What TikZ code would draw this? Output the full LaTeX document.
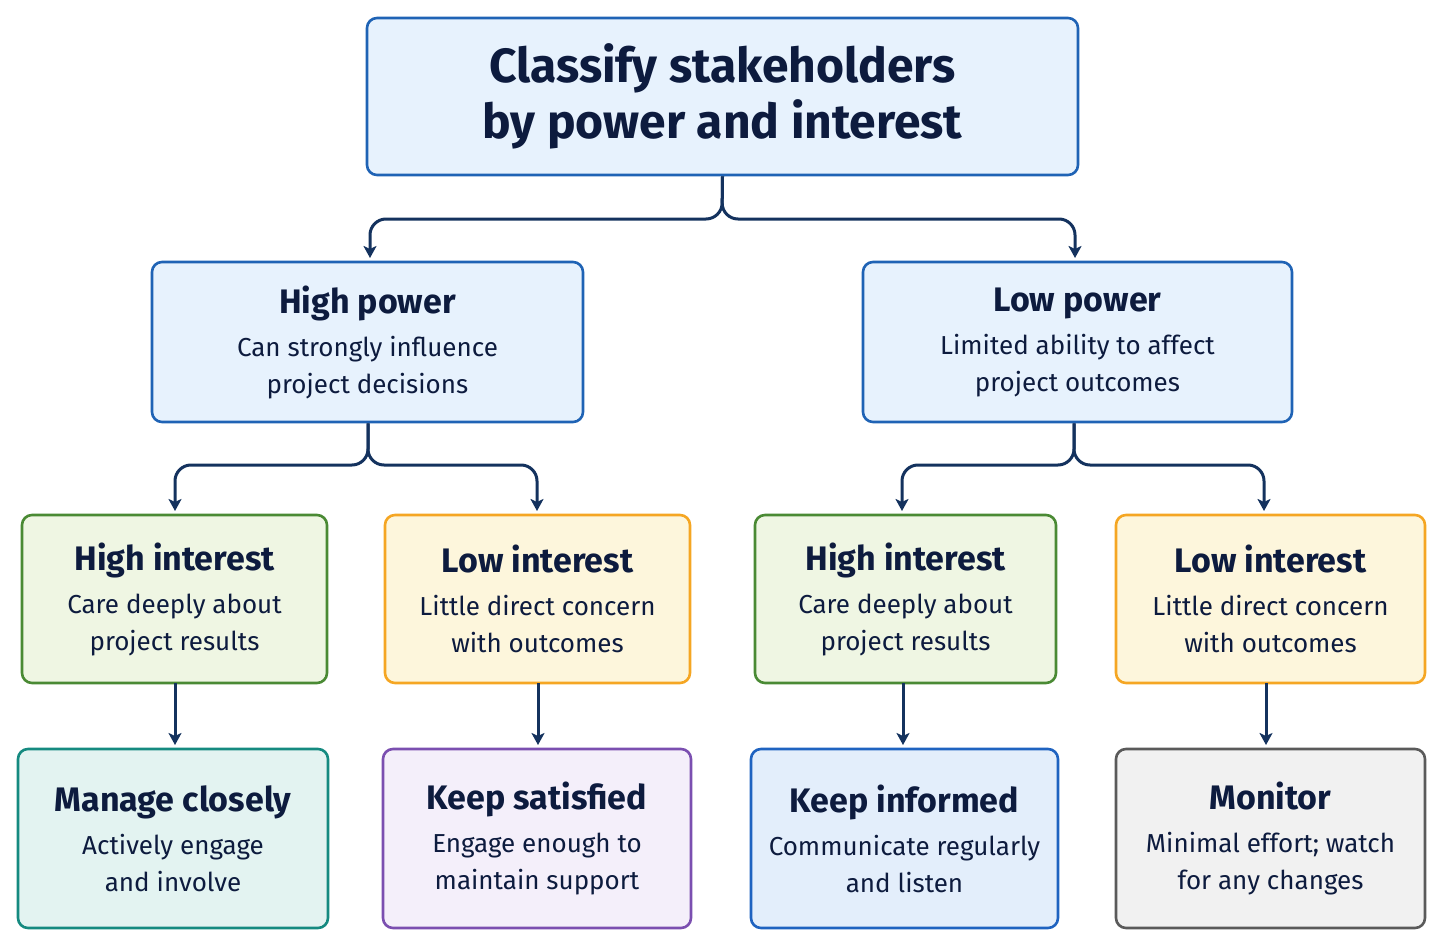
\documentclass[tikz,border=0pt]{standalone}
\usepackage{fontspec}
\setmainfont{Fira Sans}
\usetikzlibrary{arrows.meta}
\definecolor{txt}{HTML}{0D1B3E}
\definecolor{arr}{HTML}{14325E}
\definecolor{bB}{HTML}{1F63B5}\definecolor{fB}{HTML}{E7F2FD}
\definecolor{bG}{HTML}{4A8A34}\definecolor{fG}{HTML}{EFF6E3}
\definecolor{bO}{HTML}{F5A623}\definecolor{fO}{HTML}{FDF6DC}
\definecolor{bT}{HTML}{158A80}\definecolor{fT}{HTML}{E3F3F1}
\definecolor{bP}{HTML}{7B4FB0}\definecolor{fP}{HTML}{F4EFFA}
\definecolor{bK}{HTML}{1F63C0}\definecolor{fK}{HTML}{E3EEFB}
\definecolor{bY}{HTML}{5A5A5A}\definecolor{fY}{HTML}{F1F1F1}
\newcommand{\hdf}{\fontsize{34}{40}\selectfont\bfseries}
\newcommand{\bdf}{\fontsize{26}{37}\selectfont\mdseries}
\tikzset{
 box/.style={draw=#1, line width=2.6pt, rounded corners=10pt, text=txt, align=center, inner sep=0pt, font=\bdf},
 conn/.style={draw=arr, line width=3pt, rounded corners=16pt, -{Stealth[length=12pt,width=13pt,inset=3pt]}, shorten >=4pt},
}
\newcommand{\mybox}[8]{%
 \node[box=#6, fill=#7, minimum width=#4pt-#2pt, minimum height=#5pt-#3pt] (#1) at ({(#2+#4)/2},{(#3+#5)/2}) {#8};}
\begin{document}
\begin{tikzpicture}[x=1pt,y=-1pt]
\useasboundingbox (0,0) rectangle (1443,947);
\node[box=bB, fill=fB, minimum width=711pt, minimum height=157pt, font=\fontsize{48}{56}\selectfont\bfseries] (top) at (722.5,96.5) {Classify stakeholders\\ by power and interest};
\mybox{hp}{152}{262}{583}{422}{bB}{fB}{\hdf High power\\[6pt]\bdf Can strongly influence\\ \bdf project decisions}
\mybox{lp}{863}{262}{1292}{422}{bB}{fB}{\hdf Low power\\[6pt]\bdf Limited ability to affect\\ \bdf project outcomes}
\mybox{a}{22}{515}{327}{683}{bG}{fG}{\hdf High interest\\[6pt]\bdf Care deeply about\\ \bdf project results}
\mybox{b}{385}{515}{690}{683}{bO}{fO}{\hdf Low interest\\[6pt]\bdf Little direct concern\\ \bdf with outcomes}
\mybox{c}{755}{515}{1056}{683}{bG}{fG}{\hdf High interest\\[6pt]\bdf Care deeply about\\ \bdf project results}
\mybox{d}{1116}{515}{1425}{683}{bO}{fO}{\hdf Low interest\\[6pt]\bdf Little direct concern\\ \bdf with outcomes}
\mybox{e}{18}{749}{328}{928}{bT}{fT}{\hdf Manage closely\\[6pt]\bdf Actively engage\\ \bdf and involve}
\mybox{f}{383}{749}{691}{928}{bP}{fP}{\hdf Keep satisfied\\[6pt]\bdf Engage enough to\\ \bdf maintain support}
\mybox{g}{751}{749}{1058}{928}{bK}{fK}{\hdf Keep informed\\[6pt]\bdf Communicate regularly\\ \bdf and listen}
\mybox{h}{1116}{749}{1425}{928}{bY}{fY}{\hdf Monitor\\[6pt]\bdf Minimal effort; watch\\ \bdf for any changes}
\coordinate (j1) at (722,219);
\coordinate (j2) at (368,465);
\coordinate (j3) at (1074,465);
\draw[conn] (top.south) -- (j1) -| (370,262);
\draw[conn] (top.south) -- (j1) -| (1075,262);
\draw[conn] (hp.south -| j2) -- (j2) -| (175,515);
\draw[conn] (hp.south -| j2) -- (j2) -| (537,515);
\draw[conn] (lp.south -| j3) -- (j3) -| (902,515);
\draw[conn] (lp.south -| j3) -- (j3) -| (1264,515);
\draw[conn] (175,683) -- (175,749);
\draw[conn] (538,683) -- (538,749);
\draw[conn] (903,683) -- (903,749);
\draw[conn] (1266,683) -- (1266,749);
\end{tikzpicture}
\end{document}
